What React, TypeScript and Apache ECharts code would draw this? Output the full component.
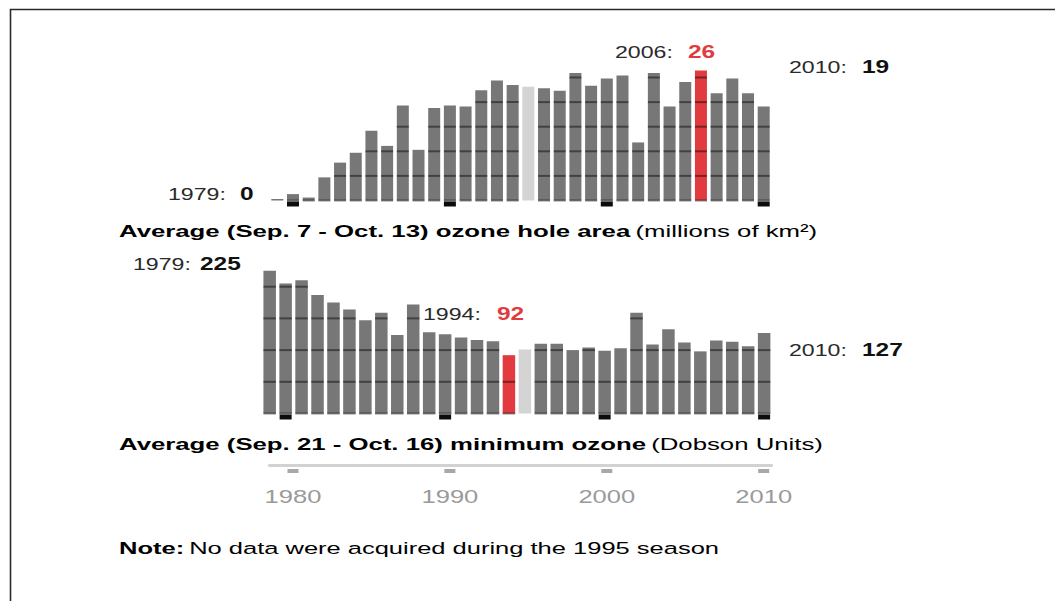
import React, { useEffect, useRef } from "react";
import * as echarts from "echarts";

// ---------- data ----------
const years: string[] = [
  "1979", "1980", "1981", "1982", "1983", "1984", "1985", "1986", "1987", "1988",
  "1989", "1990", "1991", "1992", "1993", "1994", "1995", "1996", "1997", "1998",
  "1999", "2000", "2001", "2002", "2003", "2004", "2005", "2006", "2007", "2008",
  "2009", "2010",
];
// Average (Sep. 7 - Oct. 13) ozone hole area, millions of km²  (1995: no data)
const holeArea: (number | null)[] = [
  0.3, 1.3, 0.6, 4.7, 7.7, 9.7, 14.2, 11.1, 19.3, 10.3,
  18.8, 19.3, 19.1, 22.4, 24.4, 23.5, null, 22.8, 22.3, 25.9,
  23.3, 24.8, 25.4, 11.8, 25.9, 19.1, 24.1, 26.4, 21.8, 24.8,
  21.8, 19.1,
];
// Average (Sep. 21 - Oct. 16) minimum ozone, Dobson Units (1995: no data)
const minOzone: (number | null)[] = [
  225, 205, 210, 187, 175, 164, 147, 159, 124, 172,
  128, 125, 120, 116, 114, 92, null, 110, 110, 100,
  104, 99, 103, 159, 109, 133, 112, 98, 115, 113,
  106, 127,
];
// height of the light placeholder bar drawn for the missing season
const noDataArea = 23.1;
const noDataOzone = 101;
const highlightArea = "2006";
const highlightOzone = "1994";
const areaLines = [0, 5, 10, 15, 20, 25];
const ozoneLines = [0, 50, 100, 150, 200];
const tickYears: string[] = ["1980", "1990", "2000", "2010"];

// ---------- styles ----------
const BAR = "#777777";
const BAR_GAP = "#d4d4d4";
const RED = "#e23b3f";
const LINE = "rgba(0,0,0,0.45)";
const FONT = "'Liberation Sans', Arial, Helvetica, sans-serif";
const SX = 1.36;
const TITLE_SX = 1.515;

function barRenderer(lines: number[], hiYear: string, barW: number) {
  return (params: any, api: any) => {
    const idx = api.value(0);
    const v = api.value(1);
    const kind = api.value(2);
    const base = api.coord([idx, 0]);
    const top = api.coord([idx, v]);
    const x = base[0] - barW / 2;
    const fill = kind === 2 ? BAR_GAP : years[idx] === hiYear ? RED : BAR;
    const children: any[] = [
      { type: "rect", shape: { x, y: top[1], width: barW, height: base[1] - top[1] }, style: { fill } },
    ];
    if (kind !== 2) {
      for (const L of lines) {
        const y = api.coord([idx, L])[1];
        if (y - top[1] > 2.5) {
          children.push({ type: "rect", shape: { x, y: y - 1, width: barW, height: 2 }, style: { fill: LINE } });
        }
      }
    }
    return { type: "group", children };
  };
}

function tickRenderer(w: number, dy: number, h: number, color: string) {
  return (params: any, api: any) => {
    const idx = api.value(0);
    const p = api.coord([idx, 0]);
    return { type: "rect", shape: { x: p[0] - w / 2, y: p[1] + dy, width: w, height: h }, style: { fill: color } };
  };
}

function yearAxisRenderer(params: any, api: any) {
  const idx = api.value(0);
  const p = api.coord([idx, 0]);
  return {
    type: "group",
    children: [
      { type: "rect", shape: { x: p[0] - 5.5, y: p[1] + 4, width: 11, height: 4 }, style: { fill: "#a8a8a8" } },
      {
        type: "text",
        x: p[0],
        y: p[1] + 32,
        scaleX: 1.42,
        style: {
          text: years[idx],
          fontFamily: FONT,
          fontSize: 18,
          fill: "#9a9a9a",
          align: "center",
          verticalAlign: "middle",
        },
      },
    ],
  };
}

function barData(vals: (number | null)[], gapVal: number) {
  return years.map((y, i) => (vals[i] == null ? [i, gapVal, 2] : [i, vals[i] as number, 1]));
}
const tickData = tickYears.map((t) => [years.indexOf(t), 0]);

function txt(x: number, y: number, text: string, opts: any = {}) {
  return {
    type: "text",
    x,
    y,
    scaleX: opts.sx ?? SX,
    style: {
      text,
      fontFamily: FONT,
      fontSize: opts.size ?? 17,
      fontWeight: opts.bold ? "bold" : "normal",
      fill: opts.color ?? "#2a2a2a",
      verticalAlign: "middle",
      align: "left",
    },
    z: 10,
  };
}

export default function App() {
  const ref = useRef<HTMLDivElement>(null);
  useEffect(() => {
    if (!ref.current) return;
    const chart = echarts.init(ref.current, null, { renderer: "svg" });
    const topGrid = { left: 269.45, width: 502.1, top: 52.9, height: 147.6 };
    const botGrid = { left: 261.7, width: 510.4, top: 255, height: 158.5 };
    const axGrid = { left: 269.45, width: 502.1, top: 455, height: 10 };
    const hiddenX = (gi: number) => ({
      type: "category",
      data: years,
      gridIndex: gi,
      show: false,
      boundaryGap: true,
    });
    const titleRich = {
      b: { fontFamily: FONT, fontSize: 17, fontWeight: "bold", color: "#1e1e1e" },
      n: { fontFamily: FONT, fontSize: 17, fontWeight: "normal", color: "#333333" },
    };
    chart.setOption({
      animation: false,
      backgroundColor: "#ffffff",
      grid: [topGrid, botGrid, axGrid],
      xAxis: [
        hiddenX(0),
        hiddenX(1),
        {
          type: "category",
          data: years,
          gridIndex: 2,
          boundaryGap: true,
          axisLine: { show: true, lineStyle: { color: "#d2d2d2", width: 3 } },
          axisTick: { show: false },
          axisLabel: { show: false },
        },
      ],
      yAxis: [
        { type: "value", gridIndex: 0, min: 0, max: 30, show: false },
        { type: "value", gridIndex: 1, min: 0, max: 250, show: false },
        { type: "value", gridIndex: 2, min: 0, max: 1, show: false },
      ],
      series: [
        {
          type: "custom",
          name: "Ozone hole area",
          xAxisIndex: 0,
          yAxisIndex: 0,
          renderItem: barRenderer(areaLines, highlightArea, 12),
          data: barData(holeArea, noDataArea),
          encode: { x: 0, y: 1 },
          clip: false,
        },
        {
          type: "custom",
          xAxisIndex: 0,
          yAxisIndex: 0,
          renderItem: tickRenderer(12, 1, 5, "#0c0c0c"),
          data: tickData,
          encode: { x: 0, y: 1 },
          z: 5,
          clip: false,
        },
        {
          type: "custom",
          name: "Minimum ozone",
          xAxisIndex: 1,
          yAxisIndex: 1,
          renderItem: barRenderer(ozoneLines, highlightOzone, 12.5),
          data: barData(minOzone, noDataOzone),
          encode: { x: 0, y: 1 },
          clip: false,
        },
        {
          type: "custom",
          xAxisIndex: 1,
          yAxisIndex: 1,
          renderItem: tickRenderer(12, 1, 5, "#0c0c0c"),
          data: tickData,
          encode: { x: 0, y: 1 },
          z: 5,
          clip: false,
        },
        {
          type: "custom",
          xAxisIndex: 2,
          yAxisIndex: 2,
          renderItem: yearAxisRenderer,
          data: tickData,
          encode: { x: 0, y: 1 },
          clip: false,
        },
      ],
      graphic: [
        {
          type: "polyline",
          shape: { points: [[10.5, 601], [10.5, 9.5], [1055, 9.5]] },
          style: { stroke: "#2b2b2b", lineWidth: 1.6, fill: null },
          silent: true,
        },
        txt(168, 194, "1979:"),
        txt(240, 194, "0", { bold: true, color: "#111", size: 18 }),
        txt(615, 52, "2006:"),
        txt(688, 52, "26", { bold: true, color: RED, size: 18 }),
        txt(789, 67, "2010:"),
        txt(862, 67, "19", { bold: true, color: "#111", size: 18 }),
        {
          type: "text",
          x: 119,
          y: 231,
          scaleX: TITLE_SX,
          z: 10,
          style: {
            text: "{b|Average (Sep. 7 - Oct. 13) ozone hole area} {n|(millions of km²)}",
            rich: titleRich,
            verticalAlign: "middle",
          },
        },
        txt(133, 264, "1979:"),
        txt(200, 264, "225", { bold: true, color: "#111", size: 18 }),
        txt(423, 314, "1994:"),
        txt(497, 314, "92", { bold: true, color: RED, size: 18 }),
        txt(789, 350, "2010:"),
        txt(862, 350, "127", { bold: true, color: "#111", size: 18 }),
        {
          type: "text",
          x: 119,
          y: 444,
          scaleX: TITLE_SX,
          z: 10,
          style: {
            text: "{b|Average (Sep. 21 - Oct. 16) minimum ozone} {n|(Dobson Units)}",
            rich: titleRich,
            verticalAlign: "middle",
          },
        },
        {
          type: "text",
          x: 119,
          y: 548,
          scaleX: 1.5,
          z: 10,
          style: {
            text: "{b|Note:} {n|No data were acquired during the 1995 season}",
            rich: {
              b: { fontFamily: FONT, fontSize: 17, fontWeight: "bold", color: "#1e1e1e" },
              n: { fontFamily: FONT, fontSize: 17, fontWeight: "normal", color: "#2a2a2a" },
            },
            verticalAlign: "middle",
          },
        },
      ],
    });
    return () => chart.dispose();
  }, []);
  return (
    <div
      ref={ref}
      style={{ position: "fixed", left: 0, top: 0, width: 1055, height: 601, background: "#fff" }}
    />
  );
}
